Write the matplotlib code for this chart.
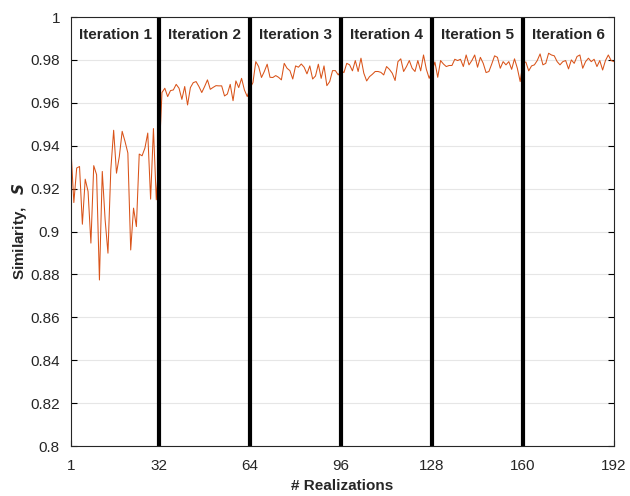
import numpy as np
from matplotlib import pyplot as plt

plt.rcParams["font.family"] = ["Liberation Sans", "DejaVu Sans"]

# similarity per realization, one block of 32 per iteration
iter1 = [0.938, 0.9135, 0.9296, 0.9303, 0.9034, 0.9244, 0.9187, 0.8946,
         0.9307, 0.9265, 0.8774, 0.928, 0.9055, 0.8899, 0.9288, 0.9472,
         0.9272, 0.935, 0.9467, 0.942, 0.9366, 0.8914, 0.9109, 0.9023,
         0.9361, 0.9353, 0.9389, 0.9459, 0.9151, 0.948, 0.9148, 0.935]
iter2 = [0.9648, 0.9668, 0.9629, 0.9657, 0.966, 0.9686, 0.9668, 0.9616,
         0.9676, 0.959, 0.9671, 0.9694, 0.9699, 0.9676, 0.9648, 0.9676,
         0.9707, 0.9663, 0.9672, 0.968, 0.9679, 0.9679, 0.9632, 0.9641,
         0.9686, 0.961, 0.9702, 0.9671, 0.9714, 0.966, 0.9629, 0.967]
iter3 = [0.9694, 0.9792, 0.9769, 0.9718, 0.9746, 0.978, 0.9719, 0.9718,
         0.9727, 0.9719, 0.9707, 0.9784, 0.9761, 0.975, 0.9711, 0.9772,
         0.9766, 0.9781, 0.9766, 0.9735, 0.9772, 0.9711, 0.9725, 0.978,
         0.9714, 0.9772, 0.968, 0.9699, 0.975, 0.975, 0.973, 0.975]
iter4 = [0.9741, 0.9784, 0.9777, 0.9749, 0.9797, 0.9746, 0.9808, 0.9738,
         0.9702, 0.9722, 0.9733, 0.9746, 0.9746, 0.9742, 0.973, 0.9769,
         0.9756, 0.9738, 0.9704, 0.9792, 0.9805, 0.9746, 0.9769, 0.9797,
         0.9761, 0.9746, 0.9797, 0.9749, 0.9823, 0.9756, 0.9714, 0.975]
iter5 = [0.979, 0.9719, 0.9797, 0.9781, 0.9769, 0.9774, 0.9774, 0.9803,
         0.9797, 0.9803, 0.9769, 0.9823, 0.9777, 0.9797, 0.9823, 0.9766,
         0.9812, 0.9784, 0.9741, 0.9746, 0.9781, 0.9819, 0.9812, 0.9761,
         0.9792, 0.9777, 0.9792, 0.9756, 0.9805, 0.9761, 0.9699, 0.9788]
iter6 = [0.979, 0.9749, 0.9772, 0.9777, 0.9797, 0.9828, 0.9777, 0.9784,
         0.9831, 0.9823, 0.9819, 0.9792, 0.9777, 0.9792, 0.9797, 0.9758,
         0.98, 0.9784, 0.9816, 0.9823, 0.9761, 0.9792, 0.9808, 0.9792,
         0.9803, 0.9769, 0.9797, 0.9753, 0.9797, 0.9823, 0.9797, 0.9792]

blocks = [iter1, iter2, iter3, iter4, iter5, iter6]
block_names = [f"Iteration {i}" for i in range(1, 7)]
boundaries = [32, 64, 96, 128, 160]
x_ticks = [1, 32, 64, 96, 128, 160, 192]
y_ticks = [0.8, 0.82, 0.84, 0.86, 0.88, 0.9, 0.92, 0.94, 0.96, 0.98, 1.0]
y_labels = ["0.8", "0.82", "0.84", "0.86", "0.88", "0.9", "0.92", "0.94",
            "0.96", "0.98", "1"]

similarity = np.concatenate(blocks)
realization = np.arange(1, len(similarity) + 1)

fig = plt.figure(figsize=(6.3, 4.96), dpi=100)
ax = fig.add_axes([0.1127, 0.1008, 0.8619, 0.8649])

ax.grid(True, axis="y", color="#e6e6e6", linewidth=0.8)
ax.set_axisbelow(True)

ax.plot(realization, similarity, color="#D95319", linewidth=0.75)

for b in boundaries:
    ax.axvline(b, color="black", linewidth=3)

edges = [1] + boundaries + [192]
for name, lo, hi in zip(block_names, edges[:-1], edges[1:]):
    ax.text((lo + hi) / 2, 0.9916, name, ha="center", va="center",
            fontsize=11, fontweight="bold", color="#262626")

ax.set_xlim(1, 192)
ax.set_ylim(0.8, 1.0)
ax.set_xticks(x_ticks)
ax.set_yticks(y_ticks)
ax.set_yticklabels(y_labels)
ax.tick_params(direction="in", labelsize=11, labelcolor="#262626",
               top=False, right=True, length=4)
ax.tick_params(axis="x", pad=9)
ax.tick_params(axis="y", pad=8)

for s in ax.spines.values():
    s.set_color("#262626")
    s.set_linewidth(0.8)

ax.set_xlabel("# Realizations", fontsize=11, fontweight="bold",
              color="#262626", labelpad=5)
ax.set_ylabel("Similarity,   $\\mathbfit{S}$", fontsize=11, fontweight="bold",
              color="#262626", labelpad=1)

fig.savefig("out.png", dpi=100)
